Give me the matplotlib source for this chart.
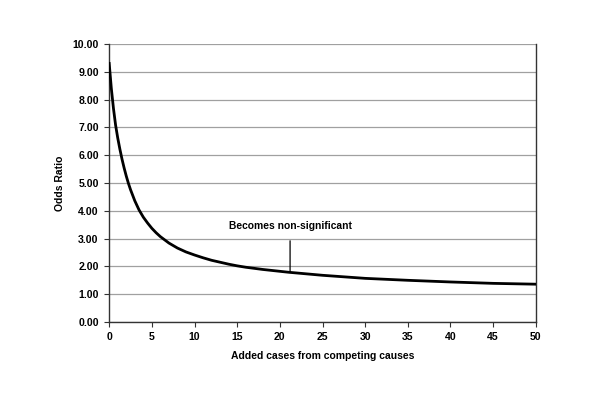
import matplotlib
matplotlib.use("Agg")
import matplotlib.pyplot as plt

plt.rcParams["font.family"] = "Liberation Sans"
plt.rcParams["font.weight"] = "bold"

# values
added_cases = [0, 0.25, 0.5, 0.75, 1, 1.25, 1.5, 1.75, 2, 2.25, 2.5, 3, 3.5,
               4, 4.5, 5, 5.5, 6, 7, 8, 9, 10, 11, 12, 13, 14, 15, 16, 18,
               21, 25, 30, 35, 40, 45, 50]
odds_ratio = [9.30, 8.40, 7.68, 7.08, 6.62, 6.22, 5.86, 5.54, 5.25, 4.99,
              4.76, 4.36, 4.03, 3.77, 3.56, 3.37, 3.21, 3.07, 2.84, 2.66,
              2.52, 2.41, 2.31, 2.22, 2.15, 2.08, 2.02, 1.97, 1.89, 1.79,
              1.68, 1.57, 1.50, 1.44, 1.39, 1.36]

note_text = "Becomes non-significant"
note_x = 21.2
note_y = 1.78

x_ticks = list(range(0, 55, 5))
y_ticks = [i * 1.0 for i in range(11)]

fig = plt.figure(figsize=(6, 4), dpi=100)
ax = fig.add_axes([0.182, 0.195, 0.711, 0.695])

ax.plot(added_cases, odds_ratio, color="black", linewidth=2.0, zorder=3,
        solid_joinstyle="round")

ax.annotate(note_text, xy=(note_x, note_y), xytext=(note_x, 3.45),
            ha="center", va="center", fontsize=7.4, fontweight="bold",
            arrowprops=dict(arrowstyle="-", color="black", lw=0.9,
                            shrinkA=5, shrinkB=0))

ax.set_xlim(0, 50)
ax.set_ylim(0, 10)
ax.set_xticks(x_ticks)
ax.set_yticks(y_ticks)
ax.set_yticklabels([f"{v:.2f}" for v in y_ticks])
ax.tick_params(labelsize=7.6, length=3.5, width=0.8, color="#333333", pad=4)
for lab in ax.get_xticklabels() + ax.get_yticklabels():
    lab.set_fontweight("bold")

ax.grid(axis="y", color="#a0a0a0", linewidth=0.9)
ax.set_axisbelow(True)

ax.spines["top"].set_visible(False)
for side in ["left", "bottom", "right"]:
    ax.spines[side].set_color("#333333")
    ax.spines[side].set_linewidth(1.0)

ax.set_xlabel("Added cases from competing causes", fontsize=7.5,
              fontweight="bold", labelpad=6)
ax.set_ylabel("Odds Ratio", fontsize=7.5, fontweight="bold", labelpad=5)

fig.savefig("out.png", dpi=100)
